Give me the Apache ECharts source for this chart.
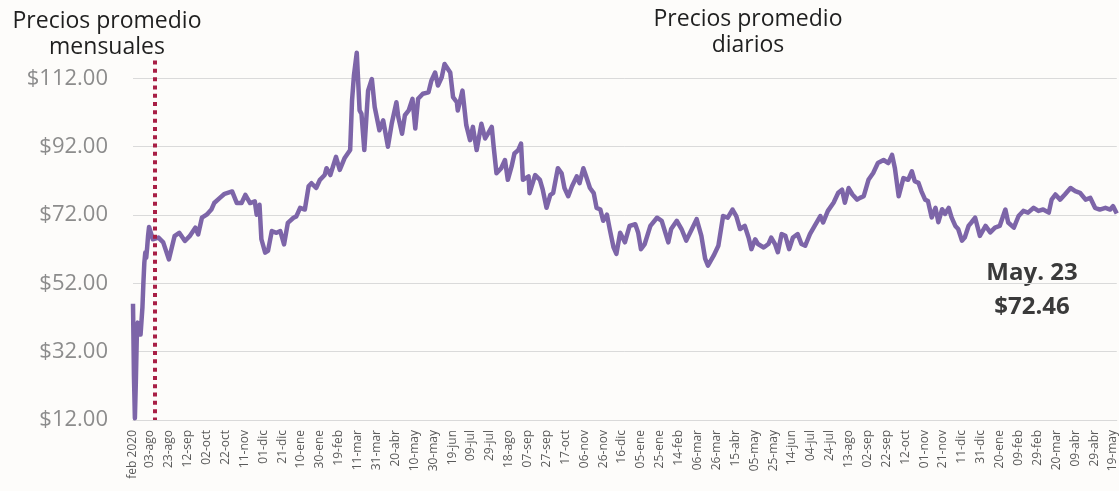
<!DOCTYPE html>
<html>
<head>
<meta charset="utf-8">
<script src="https://cdn.jsdelivr.net/npm/echarts@6/dist/echarts.min.js"></script>
<style>
  html, body { margin: 0; padding: 0; background: #fdfcfa; }
  #main { width: 1119px; height: 491px; }
</style>
</head>
<body>
<div id="main"></div>
<script>
// precios promedio mensuales (feb 2020 - jul 2021)
const monthLabels = ['feb 2020', 'mar 2020', 'abr 2020', 'may 2020', 'jun 2020', 'jul 2020',
  'ago 2020', 'sep 2020', 'oct 2020', 'nov 2020', 'dic 2020', 'ene 2021', 'feb 2021',
  'mar 2021', 'abr 2021', 'may 2021', 'jun 2021', 'jul 2021']
const monthPrices = [46.0, 25.0, 12.5, 23.0, 36.0, 40.5, 41.0, 38.5, 37.0, 36.5, 45.0, 52.0,
  58.0, 61.0, 59.5, 62.5, 66.0, 68.5]

// precios promedio diarios: dias desde el 03-ago-2021 y precio leido
const dailyStart = [2021, 7, 3]
const dailyCount = 1025
const dailyDays = [0, 3, 9, 14, 20, 26, 31, 37, 42, 48, 51, 55, 60, 65, 68, 74, 79, 87, 92, 97,
  101, 106, 111, 113, 116, 118, 122, 125, 129, 134, 138, 142, 146, 152, 155, 159, 164, 168, 171, 176,
  180, 185, 187, 191, 197, 201, 206, 212, 214, 216, 219, 222, 224, 227, 231, 235, 238, 243, 247, 252,
  256, 261, 263, 267, 270, 274, 278, 281, 284, 289, 295, 298, 302, 305, 309, 312, 318, 321, 325, 326,
  331, 335, 339, 342, 346, 351, 355, 358, 362, 364, 367, 372, 376, 379, 383, 386, 390, 393, 395, 401,
  402, 408, 413, 416, 420, 424, 427, 432, 436, 439, 443, 447, 452, 455, 459, 462, 466, 470, 473, 477,
  480, 484, 487, 491, 494, 498, 503, 508, 514, 517, 520, 524, 530, 537, 542, 549, 552, 558, 563, 568,
  574, 579, 584, 588, 591, 597, 602, 607, 612, 617, 621, 625, 630, 634, 637, 641, 644, 650, 655, 658,
  662, 665, 669, 673, 677, 681, 686, 690, 694, 699, 704, 710, 713, 718, 724, 729, 733, 736, 740, 744,
  749, 752, 756, 761, 766, 771, 777, 782, 786, 789, 793, 798, 803, 807, 810, 814, 817, 821, 824, 828,
  832, 835, 839, 842, 846, 849, 853, 856, 860, 863, 867, 870, 874, 879, 885, 890, 895, 900, 906, 909,
  915, 920, 925, 930, 936, 941, 946, 952, 955, 959, 964, 969, 975, 980, 985, 991, 996, 1001, 1006, 1012,
  1017, 1020, 1024]
const dailyPrices = [68.7, 64.9, 65.4, 64.0, 59.0, 65.8, 66.8, 64.4, 65.8, 68.3, 66.3, 71.2, 72.1, 73.6, 75.5, 77.0, 78.2, 78.9, 75.5, 75.5,
  77.9, 75.5, 76.0, 72.1, 75.0, 64.9, 61.0, 61.5, 67.3, 66.8, 67.3, 63.4, 69.7, 71.2, 71.6, 74.1, 73.6, 80.4, 81.3, 79.9,
  82.3, 83.7, 85.7, 83.7, 89.0, 85.2, 88.6, 91.0, 105.5, 112.8, 119.5, 102.6, 101.6, 91.0, 108.4, 111.8, 103.6, 96.8, 99.7, 92.0,
  98.7, 105.0, 100.7, 95.8, 101.2, 102.6, 106.0, 97.3, 106.0, 107.5, 107.9, 111.3, 113.7, 109.9, 112.3, 116.2, 113.7, 106.5, 105.0, 102.6,
  108.4, 98.3, 93.9, 97.8, 91.0, 98.7, 94.4, 95.8, 97.8, 92.0, 84.2, 85.7, 88.1, 82.3, 86.2, 90.0, 91.0, 92.9, 82.3, 83.3,
  78.4, 83.7, 82.3, 79.4, 74.1, 77.9, 78.4, 85.7, 84.2, 79.9, 77.5, 80.4, 83.3, 81.3, 85.7, 83.3, 79.9, 78.4, 74.1, 73.6,
  70.3, 72.1, 67.8, 62.5, 60.6, 66.8, 64.0, 68.8, 69.3, 66.9, 62.0, 63.5, 68.8, 71.2, 70.3, 64.0, 67.9, 70.3, 67.9, 64.5,
  67.9, 70.8, 65.9, 59.2, 57.2, 60.1, 63.0, 71.7, 71.2, 73.6, 71.7, 67.9, 68.8, 65.4, 62.0, 64.9, 63.5, 62.5, 63.5, 65.4,
  63.5, 61.1, 66.4, 65.9, 62.0, 65.4, 66.4, 63.5, 63.0, 66.4, 68.8, 71.7, 69.8, 73.2, 75.6, 78.5, 79.4, 75.6, 79.9, 78.0,
  76.5, 77.0, 77.5, 82.3, 84.3, 87.2, 88.1, 87.2, 89.6, 85.7, 77.5, 82.8, 82.3, 84.8, 81.9, 81.4, 79.0, 76.5, 76.1, 71.3,
  74.1, 69.9, 73.7, 72.3, 74.1, 71.3, 68.8, 67.9, 64.5, 65.4, 68.8, 69.8, 71.2, 65.9, 68.8, 66.9, 68.3, 68.8, 73.6, 69.8,
  68.3, 71.7, 73.2, 72.7, 74.1, 73.2, 73.6, 72.7, 76.5, 78.0, 76.5, 78.0, 79.9, 79.0, 78.5, 76.5, 77.0, 74.1, 73.6, 74.1,
  73.6, 74.6, 72.46]

const monthNames = ['ene', 'feb', 'mar', 'abr', 'may', 'jun', 'jul', 'ago', 'sep', 'oct', 'nov', 'dic']
const yTicks = { min: 12, max: 120, step: 20 }
const lastNote = ['May. 23', '$72.46']

// categorias: meses y luego dias
const dayLabels = []
for (let i = 0; i < dailyCount; i++) {
  const d = new Date(dailyStart[0], dailyStart[1], dailyStart[2] + i)
  dayLabels.push(String(d.getDate()).padStart(2, '0') + '-' + monthNames[d.getMonth()])
}
const categories = monthLabels.concat(dayLabels)
const nMonths = monthLabels.length

const values = new Array(categories.length).fill(null)
monthPrices.forEach((v, i) => { values[i] = v })
dailyDays.forEach((d, i) => { values[nMonths + d] = dailyPrices[i] })

// linea punteada entre mensuales y diarios (por indice, hay fechas repetidas)
const splitIdx = nMonths + 5

const chart = echarts.init(document.getElementById('main'))
chart.setOption({
  animation: false,
  backgroundColor: '#fdfcfa',
  grid: { left: 133, right: 2, top: 51, bottom: 71 },
  xAxis: {
    type: 'category',
    data: categories,
    boundaryGap: false,
    axisLine: { show: true, lineStyle: { color: '#d9d9d9', width: 1 } },
    axisTick: { show: false },
    splitLine: { show: false },
    axisLabel: {
      rotate: 90,
      margin: 10,
      fontSize: 12,
      color: '#5a5a5a',
      fontFamily: 'Open Sans',
      hideOverlap: false,
      interval: (i) => i === 0 || (i >= nMonths && (i - nMonths) % 20 === 0)
    }
  },
  yAxis: {
    type: 'value',
    min: yTicks.min,
    max: yTicks.max,
    interval: yTicks.step,
    axisLine: { show: false },
    axisTick: { show: false },
    splitLine: { show: true, showMaxLine: false, lineStyle: { color: '#dadada', width: 1 } },
    axisLabel: {
      showMaxLabel: false,
      margin: 25,
      fontSize: 22,
      color: '#8c8c8c',
      fontFamily: 'Open Sans',
      formatter: v => '$' + v.toFixed(2)
    }
  },
  series: [{
    type: 'line',
    data: values,
    connectNulls: true,
    showSymbol: false,
    lineStyle: { color: '#7d65a8', width: 4.5, join: 'round' },
    markLine: {
      silent: true,
      symbol: 'none',
      label: { show: false },
      lineStyle: { color: '#a81f45', width: 4, type: [4, 4.3] },
      data: [[{ coord: [splitIdx, 117.2] }, { coord: [splitIdx, yTicks.min] }]]
    }
  }],
  graphic: [
    {
      type: 'text',
      style: {
        text: 'Precios promedio\nmensuales', x: 107, y: 34,
        align: 'center', verticalAlign: 'middle', lineHeight: 26,
        fontSize: 23, fontFamily: 'Open Sans', fill: '#1f1f1f'
      }
    },
    {
      type: 'text',
      style: {
        text: 'Precios promedio\ndiarios', x: 748, y: 32,
        align: 'center', verticalAlign: 'middle', lineHeight: 26,
        fontSize: 23, fontFamily: 'Open Sans', fill: '#1f1f1f'
      }
    },
    {
      type: 'text',
      style: {
        text: lastNote.join('\n'), x: 1032, y: 290,
        align: 'center', verticalAlign: 'middle', lineHeight: 34,
        fontSize: 24, fontWeight: 'bold', fontFamily: 'Open Sans', fill: '#3a3a3a'
      }
    }
  ]
})
</script>
</body>
</html>
